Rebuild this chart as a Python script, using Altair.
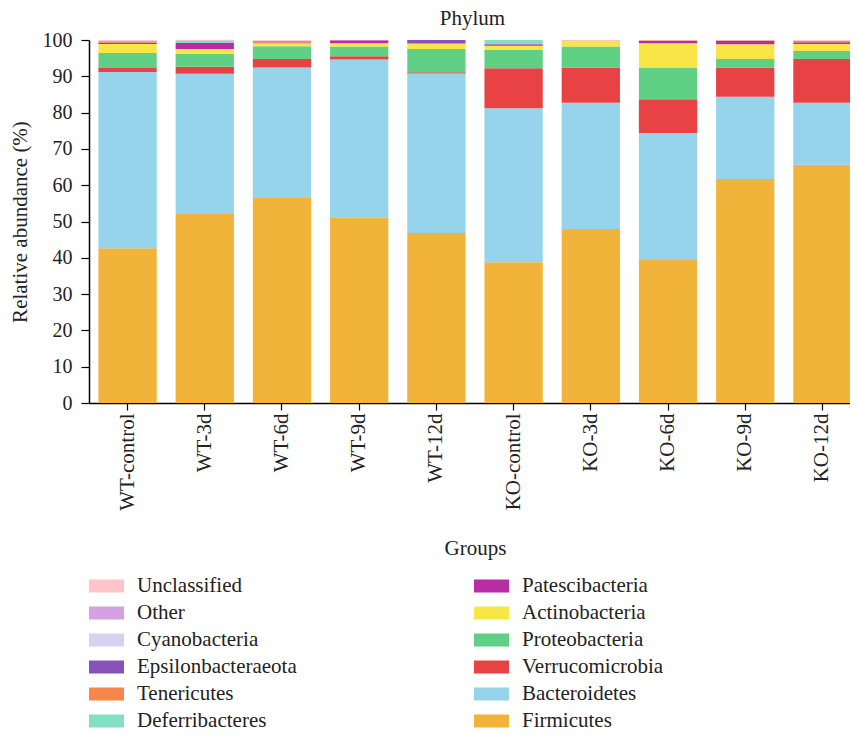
import altair as alt
import pandas as pd

groups = ["WT-control", "WT-3d", "WT-6d", "WT-9d", "WT-12d",
          "KO-control", "KO-3d", "KO-6d", "KO-9d", "KO-12d"]

# stacking order, bottom to top
phyla_stack = ["Firmicutes", "Bacteroidetes", "Verrucomicrobia", "Proteobacteria",
               "Actinobacteria", "Patescibacteria", "Deferribacteres", "Tenericutes",
               "Epsilonbacteraeota", "Cyanobacteria", "Other", "Unclassified"]

firmicutes = [42.6, 52.3, 56.5, 51.2, 46.8, 38.8, 47.9, 39.4, 61.7, 65.6]
bacteroidetes = [48.6, 38.4, 35.9, 43.4, 44.0, 42.4, 34.8, 35.0, 22.7, 17.1]
verrucomicrobia = [1.1, 1.9, 2.4, 0.9, 0.3, 11.0, 9.7, 9.3, 8.0, 12.1]
proteobacteria = [4.1, 3.6, 3.5, 2.7, 6.4, 5.1, 5.8, 8.7, 2.4, 2.2]
actinobacteria = [2.5, 1.3, 0.8, 0.9, 1.4, 1.1, 1.5, 6.7, 4.0, 1.9]
patescibacteria = [0.4, 1.7, 0.2, 0.8, 0.15, 0.4, 0.0, 0.7, 1.0, 0.45]
deferribacteres = [0.0, 0.4, 0.0, 0.0, 0.0, 1.2, 0.0, 0.0, 0.0, 0.0]
tenericutes = [0.25, 0.2, 0.4, 0.05, 0.15, 0.0, 0.15, 0.1, 0.15, 0.45]
epsilonbacteraeota = [0.1, 0.05, 0.05, 0.0, 0.8, 0.0, 0.0, 0.0, 0.0, 0.0]
cyanobacteria = [0.1, 0.05, 0.0, 0.0, 0.0, 0.0, 0.0, 0.0, 0.0, 0.0]
other = [0.1, 0.05, 0.05, 0.0, 0.0, 0.0, 0.0, 0.0, 0.0, 0.0]
unclassified = [0.15, 0.1, 0.2, 0.05, 0.0, 0.0, 0.15, 0.1, 0.05, 0.2]

values = {
    "Firmicutes": firmicutes, "Bacteroidetes": bacteroidetes,
    "Verrucomicrobia": verrucomicrobia, "Proteobacteria": proteobacteria,
    "Actinobacteria": actinobacteria, "Patescibacteria": patescibacteria,
    "Deferribacteres": deferribacteres, "Tenericutes": tenericutes,
    "Epsilonbacteraeota": epsilonbacteraeota, "Cyanobacteria": cyanobacteria,
    "Other": other, "Unclassified": unclassified,
}

colors = {
    "Unclassified": "#FFC5CB", "Other": "#D6A1E3", "Cyanobacteria": "#D8D2F2",
    "Epsilonbacteraeota": "#8952BA", "Tenericutes": "#F78748", "Deferribacteres": "#84E0C4",
    "Patescibacteria": "#B82CA4", "Actinobacteria": "#F8E546", "Proteobacteria": "#60D084",
    "Verrucomicrobia": "#E84244", "Bacteroidetes": "#95D4EB", "Firmicutes": "#F2B33B",
}

# legend: two columns, filled column by column
legend_order = ["Unclassified", "Other", "Cyanobacteria", "Epsilonbacteraeota",
                "Tenericutes", "Deferribacteres",
                "Patescibacteria", "Actinobacteria", "Proteobacteria",
                "Verrucomicrobia", "Bacteroidetes", "Firmicutes"]

rows = []
for rank, p in enumerate(phyla_stack):
    for g, v in zip(groups, values[p]):
        rows.append({"Group": g, "Phylum": p, "Abundance": v, "rank": rank})
df = pd.DataFrame(rows)

FONT = "Liberation Serif"
FS = 21
# wide flat rectangle, drawn larger than the nominal symbol size
rect_symbol = "M-1.25,-0.464L1.25,-0.464L1.25,0.464L-1.25,0.464Z"

chart = alt.Chart(df).mark_bar().encode(
    x=alt.X(
        "Group:N", sort=groups,
        scale=alt.Scale(range=[0, 772], paddingInner=0.245, paddingOuter=0.122),
        axis=alt.Axis(title="Groups", labelAngle=-90, labelFont=FONT, labelFontSize=FS,
                      labelColor="#222222", titleFont=FONT, titleFontSize=FS,
                      titleFontWeight="normal", titleColor="#222222",
                      tickSize=7, tickColor="black", domainColor="black",
                      domainWidth=1.5, tickWidth=1.2, labelPadding=3, titlePadding=27),
    ),
    y=alt.Y(
        "Abundance:Q", stack="zero",
        scale=alt.Scale(domain=[0, 100], nice=False),
        axis=alt.Axis(title="Relative abundance (%)", values=list(range(0, 101, 10)),
                      grid=False, labelFont=FONT, labelFontSize=20, labelColor="#222222",
                      titleFont=FONT, titleFontSize=FS, titleFontWeight="normal",
                      titleColor="#222222", tickSize=8, tickColor="black",
                      domainColor="black", domainWidth=1.5, tickWidth=1.2,
                      labelPadding=9, titlePadding=12),
    ),
    color=alt.Color(
        "Phylum:N",
        scale=alt.Scale(domain=legend_order, range=[colors[p] for p in legend_order]),
        legend=alt.Legend(orient="none", legendX=3.5, legendY=532, columns=2,
                          columnPadding=176, rowPadding=3, title=None,
                          symbolType=rect_symbol, symbolSize=784, symbolStrokeWidth=0,
                          symbolOpacity=1, labelFont=FONT, labelFontSize=FS,
                          labelColor="#222222", labelOffset=16.5, labelLimit=300),
    ),
    order=alt.Order("rank:Q", sort="ascending"),
).properties(
    width=761, height=363,
    title=alt.TitleParams("Phylum", font=FONT, fontSize=FS, fontWeight="normal",
                          color="#222222", anchor="middle", offset=1, dx=3),
    padding={"left": 81, "top": 32, "right": 0, "bottom": 329},
    autosize=alt.AutoSizeParams(type="none"),
).configure_view(stroke=None)

chart.save("out.html", embed_options={"renderer": "svg", "actions": False})
